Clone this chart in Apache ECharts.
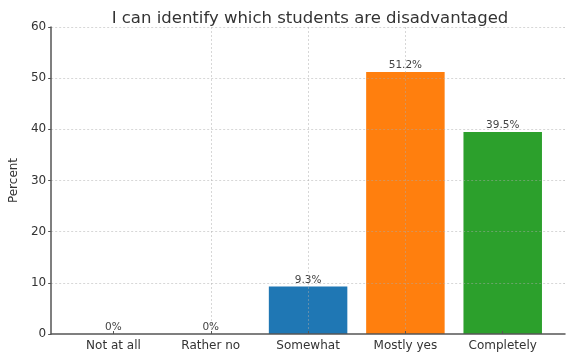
<!DOCTYPE html>
<html><head><meta charset="utf-8">
<script src="https://cdn.jsdelivr.net/npm/echarts@6/dist/echarts.min.js"></script>
<style>html,body{margin:0;padding:0;background:#fff}#c{width:584px;height:362px}</style>
</head><body><div id="c"></div>
<script>
var categories = ['Not at all', 'Rather no', 'Somewhat', 'Mostly yes', 'Completely'];
var values = [0, 0, 9.3, 51.2, 39.5];
var labels = ['0%', '0%', '9.3%', '51.2%', '39.5%'];
var colors = ['#1f77b4', '#1f77b4', '#1f77b4', '#ff7f0e', '#2ca02c'];
var yTicks = [0, 10, 20, 30, 40, 50, 60];
var title = 'I can identify which students are disadvantaged';
var yName = 'Percent';

var font = 'DejaVu Sans';
var chart = echarts.init(document.getElementById('c'), null, {renderer: 'canvas'});
var idx = categories.map(function (_, i) { return i; });
chart.setOption({
  animation: false,
  title: {text: title, left: 305, textAlign: 'center', top: 5,
    textStyle: {fontFamily: font, fontSize: 16.5, fontWeight: 'normal', color: '#333'}},
  grid: {left: 45, right: 19, top: 27, bottom: 28, containLabel: false},
  xAxis: {
    type: 'value', min: -0.64, max: categories.length - 1 + 0.64, z: 5,
    axisLine: {show: true, onZero: false, lineStyle: {color: '#555', width: 1.5}},
    axisTick: {show: true, inside: true, length: 3, customValues: idx, lineStyle: {color: '#555'}},
    axisLabel: {customValues: idx, color: '#333', fontFamily: font, fontSize: 12, margin: 6,
      formatter: function (v) { return categories[Math.round(v)] || ''; }},
    splitLine: {show: true, showMinLine: false, showMaxLine: false,
      lineStyle: {type: [2, 2], color: 'rgba(170,170,170,0.6)', width: 0.8}}
  },
  yAxis: {
    type: 'value', min: yTicks[0], max: yTicks[yTicks.length - 1], interval: 10, z: 5,
    name: yName, nameLocation: 'middle', nameGap: 28,
    nameTextStyle: {fontFamily: font, fontSize: 12, color: '#333'},
    axisLine: {show: true, onZero: false, lineStyle: {color: '#555', width: 1.5}},
    axisTick: {show: true, length: 3, lineStyle: {color: '#555'}},
    axisLabel: {color: '#333', fontFamily: font, fontSize: 12, margin: 5},
    splitLine: {show: true, showMinLine: false,
      lineStyle: {type: [2, 2], color: 'rgba(170,170,170,0.6)', width: 0.8}}
  },
  series: [{
    type: 'bar', barWidth: 78.5,
    data: values.map(function (v, i) {
      return {value: [i, v], itemStyle: {color: colors[i]},
        label: {show: true, position: 'top', distance: 1, formatter: labels[i],
          fontFamily: font, fontSize: 10.5, color: '#444'}};
    })
  }]
});
</script></body></html>
